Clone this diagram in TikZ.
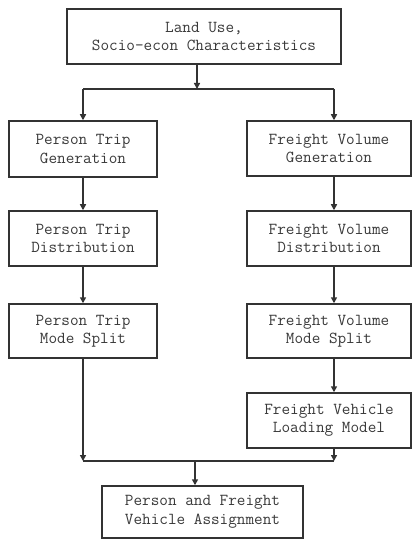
\documentclass[tikz,border=0pt]{standalone}
\usepackage{fontspec}
\usetikzlibrary{arrows.meta}
\definecolor{ink}{HTML}{333333}
\definecolor{txt}{HTML}{3A3A3A}
\begin{document}
\begin{tikzpicture}[x=1bp,y=-1bp,
  box/.style={draw=ink, line width=1.5bp, align=center, inner sep=0pt,
    text=txt, font=\ttfamily\fontsize{16.8}{18.5}\selectfont},
  link/.style={draw=ink, line width=1.5bp},
  arr/.style={link, -{Triangle[length=6bp,width=6bp]}}]
\useasboundingbox (0,0) rectangle (412,540);
\fill[white] (0,0) rectangle (412,540);

% input box
\node[box, minimum width=274bp, minimum height=55bp] (top) at (204,36.5)
  {Land Use,\\Socio-econ Characteristics};

% person trip chain
\node[box, minimum width=148bp, minimum height=56bp] (l1) at (83,149)
  {Person Trip\\Generation};
\node[box, minimum width=148bp, minimum height=55bp] (l2) at (83,238.5)
  {Person Trip\\Distribution};
\node[box, minimum width=148bp, minimum height=54bp] (l3) at (83,331)
  {Person Trip\\Mode Split};

% freight chain
\node[box, minimum width=164bp, minimum height=55bp] (r1) at (329,148.5)
  {Freight Volume\\Generation};
\node[box, minimum width=164bp, minimum height=55bp] (r2) at (329,238.5)
  {Freight Volume\\Distribution};
\node[box, minimum width=164bp, minimum height=54bp] (r3) at (329,331)
  {Freight Volume\\Mode Split};
\node[box, minimum width=164bp, minimum height=55bp] (r4) at (329,420.5)
  {Freight Vehicle\\Loading Model};

% assignment
\node[box, minimum width=201bp, minimum height=52bp] (asg) at (202.5,512)
  {Person and Freight\\Vehicle Assignment};

% split and merge points
\coordinate (tx) at (197,89);
\coordinate (sl) at (83,89);
\coordinate (sr) at (334,89);
\coordinate (ml) at (83,461);
\coordinate (mr) at (334,461);
\coordinate (mc) at (195,461);

% connectors
\draw[arr] (top.south -| tx) -- (tx);
\draw[link] (sl) -- (sr);
\draw[arr] (sl) -- (l1.north);
\draw[arr] (sr) -- (r1.north -| sr);

\draw[arr] (l1.south) -- (l2.north);
\draw[arr] (l2.south) -- (l3.north);
\draw[arr] (l3.south) -- (ml);

\draw[arr] (r1.south -| sr) -- (r2.north -| sr);
\draw[arr] (r2.south -| sr) -- (r3.north -| sr);
\draw[arr] (r3.south -| sr) -- (r4.north -| sr);
\draw[arr] (r4.south -| sr) -- (mr);

\draw[link] (ml) -- (mr);
\draw[arr] (mc) -- (asg.north -| mc);
\end{tikzpicture}
\end{document}
